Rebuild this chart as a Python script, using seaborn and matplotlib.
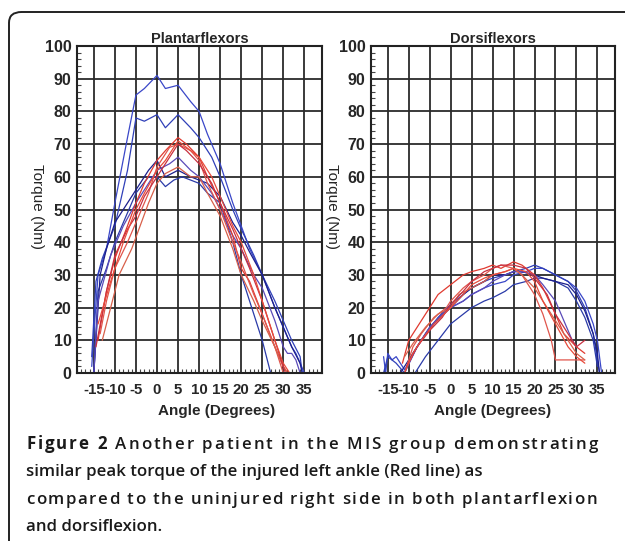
import matplotlib
matplotlib.use("Agg")
import matplotlib.pyplot as plt
from matplotlib import font_manager, ft2font
from matplotlib.font_manager import FontProperties
from matplotlib.patches import FancyBboxPatch
from matplotlib.ticker import MultipleLocator
import pandas as pd
import seaborn as sns

# --- data (angle in degrees, torque in Nm) ---
plantar_blue_1_angle = [-15.5, -15, -14, -12, -10, -7, -5, -3, 0, 2, 5, 8, 10, 12, 15, 18, 20, 22, 25, 28, 30, 32, 33, 34, 35]
plantar_blue_1_torque = [2, 12, 30, 38, 52, 72, 85, 87, 91, 87, 88, 83, 80, 73, 64, 52, 45, 38, 30, 20, 14, 8, 6, 3, 0]
plantar_blue_2_angle = [-15.5, -14.5, -13, -10, -7, -5, -3, 0, 2, 5, 8, 10, 13, 15, 18, 20, 23, 25, 28, 30, 32, 34, 34.5]
plantar_blue_2_torque = [5, 28, 35, 45, 62, 78, 77, 79, 75, 79, 75, 72, 66, 60, 50, 44, 36, 30, 22, 16, 10, 5, 0]
plantar_blue_3_angle = [-15, -14, -12, -10, -5, -2, 0, 2, 4, 6, 10, 12, 15, 18, 20, 22, 25, 27]
plantar_blue_3_torque = [0, 25, 32, 40, 55, 60, 60, 57, 59, 60, 58, 55, 52, 40, 30, 22, 10, 0]
plantar_blue_4_angle = [-15, -13.5, -12, -10, -5, -2, 0, 2, 5, 8, 10, 12, 15, 18, 20, 22, 25, 28, 30, 32, 34, 34.5]
plantar_blue_4_torque = [0, 30, 38, 46, 56, 62, 65, 60, 62, 60, 59, 58, 54, 46, 42, 37, 30, 20, 14, 8, 3, 0]
plantar_blue_5_angle = [-15, -14, -11, -8, -5, -2, 0, 3, 5, 8, 10, 13, 15, 18, 20, 23, 25, 28, 30, 31, 32, 33, 34]
plantar_blue_5_torque = [0, 22, 36, 45, 52, 58, 62, 64, 66, 62, 60, 55, 50, 42, 38, 30, 26, 16, 8, 6, 6, 4, 0]

plantar_red_1_angle = [-14, -12, -10, -7, -5, -3, 0, 2, 5, 7, 10, 12, 15, 18, 20, 22, 25, 28, 30, 31]
plantar_red_1_torque = [10, 25, 35, 45, 52, 58, 65, 68, 72, 70, 66, 60, 52, 42, 32, 28, 18, 8, 2, 0]
plantar_red_2_angle = [-13.5, -12, -10, -7, -5, -2, 0, 3, 5, 8, 10, 12, 15, 18, 20, 23, 25, 28, 30]
plantar_red_2_torque = [12, 22, 32, 40, 46, 55, 63, 69, 70, 68, 65, 58, 50, 40, 34, 24, 18, 8, 0]
plantar_red_3_angle = [-13, -11, -9, -6, -4, -2, 0, 2, 5, 8, 10, 12, 15, 18, 20, 23, 25, 28, 30, 31]
plantar_red_3_torque = [10, 20, 30, 38, 45, 52, 58, 61, 63, 60, 60, 55, 48, 38, 30, 22, 16, 8, 2, 0]
plantar_red_4_angle = [-14.5, -12, -10, -7, -5, -3, 0, 3, 5, 7, 10, 13, 15, 18, 20, 22, 25, 27, 29, 30.5]
plantar_red_4_torque = [8, 25, 36, 44, 48, 54, 60, 66, 70, 68, 64, 58, 52, 44, 38, 32, 22, 14, 6, 0]
plantar_red_5_angle = [-14, -11, -8, -5, -3, 0, 2, 5, 8, 10, 13, 15, 18, 20, 23, 26, 28, 30, 31.5]
plantar_red_5_torque = [15, 28, 40, 50, 55, 62, 65, 71, 68, 66, 60, 54, 45, 40, 30, 18, 10, 3, 0]

dorsi_blue_1_angle = [-16, -15.5, -15, -14, -13, -12, -11, -10, -8, -5, -2, 0, 3, 5, 8, 10, 13, 15, 18, 20, 22, 25, 28, 30, 32, 34, 35, 35.5, 36]
dorsi_blue_1_torque = [5, 0, 6, 4, 5, 3, 1, 3, 8, 14, 18, 20, 22, 24, 26, 27, 28, 30, 31, 32, 32, 30, 28, 26, 22, 15, 10, 5, 0]
dorsi_blue_2_angle = [-16, -15, -13, -11, -9, -6, -3, 0, 3, 5, 8, 10, 13, 15, 18, 20, 22, 25, 28, 30, 32, 34, 35.5]
dorsi_blue_2_torque = [0, 5, 3, 0, 6, 12, 17, 21, 24, 26, 28, 29, 30, 31, 32, 33, 32, 30, 28, 25, 20, 12, 0]
dorsi_blue_3_angle = [-8.5, -6, -3, 0, 3, 5, 8, 10, 13, 15, 18, 20, 22, 25, 28, 30, 32, 34, 35]
dorsi_blue_3_torque = [0, 5, 10, 15, 18, 20, 22, 23, 25, 27, 28, 29, 29, 28, 26, 22, 17, 10, 2]
dorsi_blue_4_angle = [-12, -10, -7, -4, 0, 3, 5, 8, 10, 13, 15, 17, 20, 22, 25, 28, 30, 32, 34, 35, 35.5]
dorsi_blue_4_torque = [0, 4, 10, 15, 20, 24, 26, 28, 30, 30, 31, 31, 30, 29, 28, 27, 24, 19, 12, 6, 0]
dorsi_blue_5_angle = [-11, -8, -5, -2, 0, 3, 5, 8, 10, 13, 15, 17, 20, 22, 25, 27, 29, 30]
dorsi_blue_5_torque = [0, 8, 14, 18, 20, 22, 24, 26, 28, 30, 31, 31, 30, 27, 22, 16, 10, 8]

dorsi_red_1_angle = [-11.5, -10, -8, -5, -3, 0, 3, 5, 8, 10, 12, 15, 17, 20, 22, 25, 27, 30, 32]
dorsi_red_1_torque = [3, 10, 14, 20, 24, 27, 30, 31, 32, 33, 32, 34, 33, 30, 26, 18, 12, 8, 6]
dorsi_red_2_angle = [-11, -9, -7, -4, -1, 0, 3, 5, 8, 10, 12, 15, 17, 18, 20, 22, 24, 25, 27, 30, 32]
dorsi_red_2_torque = [0, 8, 12, 17, 20, 22, 26, 28, 30, 32, 33, 32, 30, 28, 24, 18, 10, 4, 4, 4, 4]
dorsi_red_3_angle = [-11, -9, -6, -3, 0, 2, 5, 8, 10, 13, 15, 17, 20, 22, 25, 28, 30, 32]
dorsi_red_3_torque = [5, 9, 14, 18, 20, 24, 26, 28, 30, 31, 32, 30, 26, 22, 16, 10, 6, 4]
dorsi_red_4_angle = [-10.5, -8, -5, -2, 0, 3, 5, 8, 10, 12, 15, 18, 20, 23, 25, 28, 30, 32]
dorsi_red_4_torque = [2, 8, 13, 17, 21, 25, 28, 31, 32, 33, 33, 32, 29, 24, 18, 12, 8, 10]
dorsi_red_5_angle = [-11, -9, -7, -4, 0, 3, 5, 8, 10, 13, 15, 18, 20, 22, 25, 28, 30, 32]
dorsi_red_5_torque = [0, 6, 10, 15, 20, 24, 27, 29, 30, 31, 32, 31, 28, 22, 15, 8, 5, 3]

x_ticks = [-15, -10, -5, 0, 5, 10, 15, 20, 25, 30, 35]
y_ticks = [0, 10, 20, 30, 40, 50, 60, 70, 80, 90, 100]
x_tick_labels = ["-15", "-10", "-5", "0", "5", "10", "15", "20", "25", "30", "35"]

caption_lines = [
    [("Figure 2 ", "bold"), ("Another patient in the MIS group demonstrating", "semibold")],
    [("similar peak torque of the injured left ankle (Red line) as", "semibold")],
    [("compared to the uninjured right side in both plantarflexion", "semibold")],
    [("and dorsiflexion.", "semibold")],
]
caption_right = [598, None, 597, None]  # right edge of the justified lines (px)
caption_base = [449, 476.5, 504, 531]   # baselines (px)

blue_colors = ["#3a47c8", "#2f3fb8", "#2a3aa8", "#1c1f8c", "#5a4ab8"]
red_colors = ["#e03a30", "#e0554c", "#d8604a", "#c83040", "#e84a3a"]


def make_frame(curves):
    rows = []
    for name, angle, torque in curves:
        rows.append(pd.DataFrame({"trial": name, "angle": angle, "torque": torque}))
    return pd.concat(rows, ignore_index=True)


plantar = make_frame([
    ("b1", plantar_blue_1_angle, plantar_blue_1_torque),
    ("b2", plantar_blue_2_angle, plantar_blue_2_torque),
    ("b3", plantar_blue_3_angle, plantar_blue_3_torque),
    ("b4", plantar_blue_4_angle, plantar_blue_4_torque),
    ("b5", plantar_blue_5_angle, plantar_blue_5_torque),
    ("r1", plantar_red_1_angle, plantar_red_1_torque),
    ("r2", plantar_red_2_angle, plantar_red_2_torque),
    ("r3", plantar_red_3_angle, plantar_red_3_torque),
    ("r4", plantar_red_4_angle, plantar_red_4_torque),
    ("r5", plantar_red_5_angle, plantar_red_5_torque),
])
dorsi = make_frame([
    ("b1", dorsi_blue_1_angle, dorsi_blue_1_torque),
    ("b2", dorsi_blue_2_angle, dorsi_blue_2_torque),
    ("b3", dorsi_blue_3_angle, dorsi_blue_3_torque),
    ("b4", dorsi_blue_4_angle, dorsi_blue_4_torque),
    ("b5", dorsi_blue_5_angle, dorsi_blue_5_torque),
    ("r1", dorsi_red_1_angle, dorsi_red_1_torque),
    ("r2", dorsi_red_2_angle, dorsi_red_2_torque),
    ("r3", dorsi_red_3_angle, dorsi_red_3_torque),
    ("r4", dorsi_red_4_angle, dorsi_red_4_torque),
    ("r5", dorsi_red_5_angle, dorsi_red_5_torque),
])
palette = dict(zip(["b1", "b2", "b3", "b4", "b5", "r1", "r2", "r3", "r4", "r5"], blue_colors + red_colors))

sns.set_style("white")
plt.rcParams["font.family"] = ["Liberation Sans", "DejaVu Sans"]

W, H = 625, 541
fig = plt.figure(figsize=(W / 100, H / 100), dpi=100)

# rounded frame around the figure
frame = FancyBboxPatch((9 / W, 1 - 640 / H), 700 / W, 628 / H,
                       boxstyle="round,pad=0,rounding_size=0.02",
                       transform=fig.transFigure, fill=False,
                       edgecolor="#222222", linewidth=1.4)
fig.patches.append(frame)


def style_axes(ax, title, xlabel_x):
    ax.set_xlim(-19, 39.2)
    ax.set_ylim(0, 100)
    ax.set_xticks(x_ticks)
    ax.set_xticklabels(x_tick_labels)
    ax.set_yticks(y_ticks)
    ax.xaxis.set_minor_locator(MultipleLocator(1))
    ax.yaxis.set_minor_locator(MultipleLocator(2))
    ax.grid(True, which="major", color="#2b2b2b", linewidth=1.3)
    ax.set_axisbelow(True)
    ax.tick_params(which="major", length=0, pad=4)
    ax.tick_params(axis="y", which="major", labelsize=11.5)
    ax.tick_params(axis="x", which="major", pad=7, labelsize=10.8)
    ax.tick_params(which="minor", direction="in", length=3, width=0.8,
                   color="#444444", left=True, bottom=True)
    for lab in ax.get_xticklabels() + ax.get_yticklabels():
        lab.set_fontweight("bold")
    for sp in ax.spines.values():
        sp.set_color("#222222")
        sp.set_linewidth(1.5)
    ax.set_title(title, fontsize=10.5, fontweight="bold", pad=2)
    ax.set_xlabel("Angle (Degrees)", fontsize=11, fontweight="bold")
    ax.xaxis.set_label_coords(xlabel_x, -0.095)
    ax.set_ylabel("Torque (Nm)", fontsize=11, rotation=270)
    ax.yaxis.set_label_coords(-0.19, 0.51)


ax1 = fig.add_axes([77 / W, 1 - 373 / H, 245 / W, 327 / H])
sns.lineplot(data=plantar, x="angle", y="torque", hue="trial", palette=palette,
             sort=False, estimator=None, legend=False, linewidth=0.9, ax=ax1)
style_axes(ax1, "Plantarflexors", 0.57)

ax2 = fig.add_axes([371 / W, 1 - 373 / H, 244 / W, 327 / H])
sns.lineplot(data=dorsi, x="angle", y="torque", hue="trial", palette=palette,
             sort=False, estimator=None, legend=False, linewidth=0.9, ax=ax2)
style_axes(ax2, "Dorsiflexors", 0.5)

# caption; justified lines are letter-spaced using the font's glyph advances
cap_size = 12.2
cap_color = "#1a1a1a"
props = {wt: FontProperties(family="Open Sans", weight=wt, size=cap_size) for wt in ("bold", "semibold")}
faces = {}
for wt, fp in props.items():
    f = ft2font.FT2Font(font_manager.findfont(fp))
    f.set_size(cap_size, 100)
    faces[wt] = f


def advance(ch, wt):
    return faces[wt].load_char(ord(ch)).linearHoriAdvance / 65536


x_left = 26
for segs, right, base in zip(caption_lines, caption_right, caption_base):
    y = 1 - base / H
    if right is None:
        x = x_left
        for text, wt in segs:
            fig.text(x / W, y, text, fontproperties=props[wt], color=cap_color, va="baseline")
            x += sum(advance(c, wt) for c in text)
        continue
    chars = [(c, wt) for text, wt in segs for c in text]
    natural = sum(advance(c, wt) for c, wt in chars)
    track = (right - x_left - natural) / (len(chars) - 1)
    x = x_left
    for c, wt in chars:
        if c != " ":
            fig.text(x / W, y, c, fontproperties=props[wt], color=cap_color, va="baseline")
        x += advance(c, wt) + track

fig.savefig("out.png", dpi=100)
